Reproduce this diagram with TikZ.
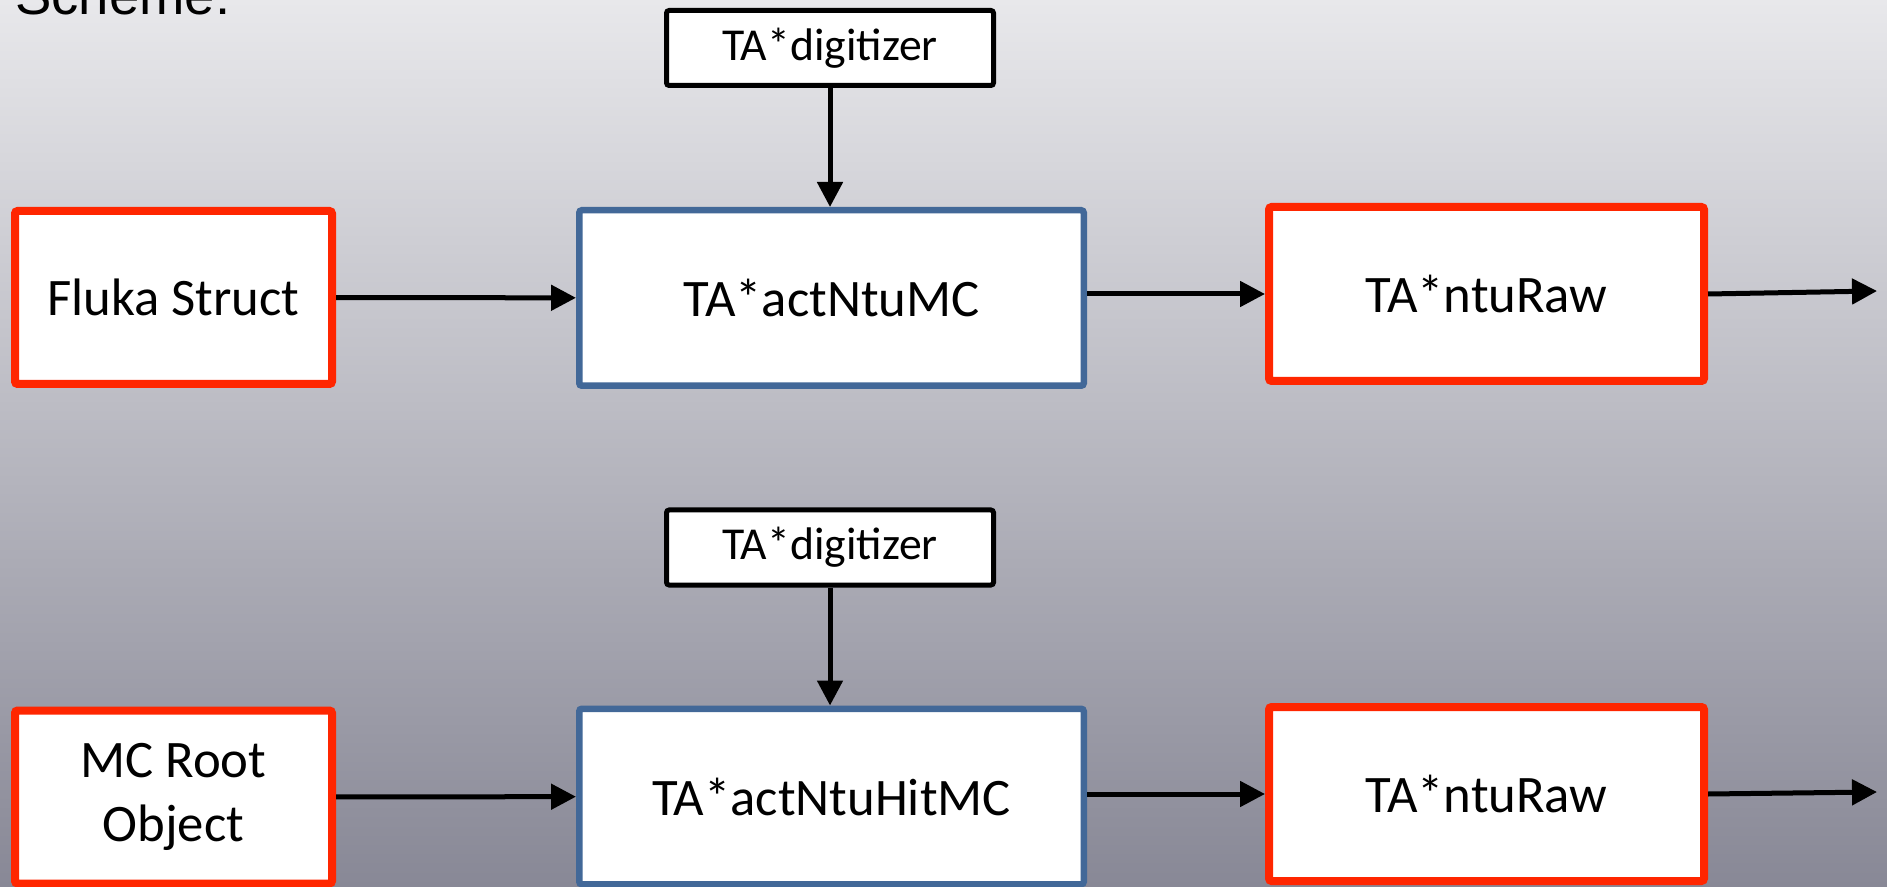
\documentclass[tikz,border=0pt]{standalone}
\usepackage{fontspec}
\setmainfont{Carlito}
\newfontfamily\helvfont{Liberation Sans}
\usetikzlibrary{arrows.meta,positioning}
\definecolor{kred}{RGB}{255,38,0}
\definecolor{kblue}{RGB}{66,104,152}
\definecolor{bgtop}{RGB}{232,232,235}
\definecolor{bgbot}{RGB}{136,136,150}
\tikzset{
  blk/.style={draw,rectangle,rounded corners=1.5pt,fill=white,align=center,font=\fontsize{30}{36}\selectfont},
  srcblk/.style={blk,draw=kred,line width=0.16cm,minimum width=6.34cm,minimum height=3.46cm},
  actblk/.style={blk,draw=kblue,line width=0.13cm,minimum width=10.09cm,minimum height=3.51cm},
  rawblk/.style={blk,draw=kred,line width=0.16cm,minimum width=8.7cm,minimum height=3.48cm},
  digblk/.style={blk,draw=black,line width=0.1cm,minimum width=6.54cm,minimum height=1.5cm,font=\fontsize{26}{30}\selectfont},
  arr/.style={-{Triangle[length=0.5cm,width=0.5cm]},line width=0.1cm},
  lbl/.style={font=\helvfont\fontsize{31}{36}\selectfont,inner sep=0pt}
}

\begin{document}
\begin{tikzpicture}
  \useasboundingbox (0,0) rectangle (37.74,17.72);
  \clip (0,0) rectangle (37.74,17.72);
  \shade[top color=bgtop, bottom color=bgbot] (0,0) rectangle (37.74,17.72);

  \node[lbl, anchor=base west] (title) at (0.3,17.42) {Scheme:};

  % Fluka chain
  \node[srcblk] (fluka) at (3.47,11.77) {Fluka Struct};
  \node[actblk] (act1) at (16.63,11.76) {TA*actNtuMC};
  \node[digblk] (dig1) at (16.6,16.76) {TA*digitizer};
  \node[rawblk] (raw1) at (29.73,11.84) {TA*ntuRaw};
  \coordinate (out1) at (37.54,11.9);

  \draw[arr] (fluka) -- (act1);
  \draw[arr] (dig1.south) -- (dig1.south |- act1.north);
  \draw[arr] (act1.east |- raw1.west) -- (raw1.west);
  \draw[arr] (raw1.east) -- (out1);

  % MC root chain
  \node[srcblk] (mcroot) at (3.47,1.78) {MC Root\\Object};
  \node[actblk] (act2) at (16.63,1.79) {TA*actNtuHitMC};
  \node[digblk] (dig2) at (16.6,6.77) {TA*digitizer};
  \node[rawblk] (raw2) at (29.73,1.84) {TA*ntuRaw};
  \coordinate (out2) at (37.54,1.88);

  \draw[arr] (mcroot) -- (act2);
  \draw[arr] (dig2.south) -- (dig2.south |- act2.north);
  \draw[arr] (act2.east |- raw2.west) -- (raw2.west);
  \draw[arr] (raw2.east) -- (out2);
\end{tikzpicture}
\end{document}
